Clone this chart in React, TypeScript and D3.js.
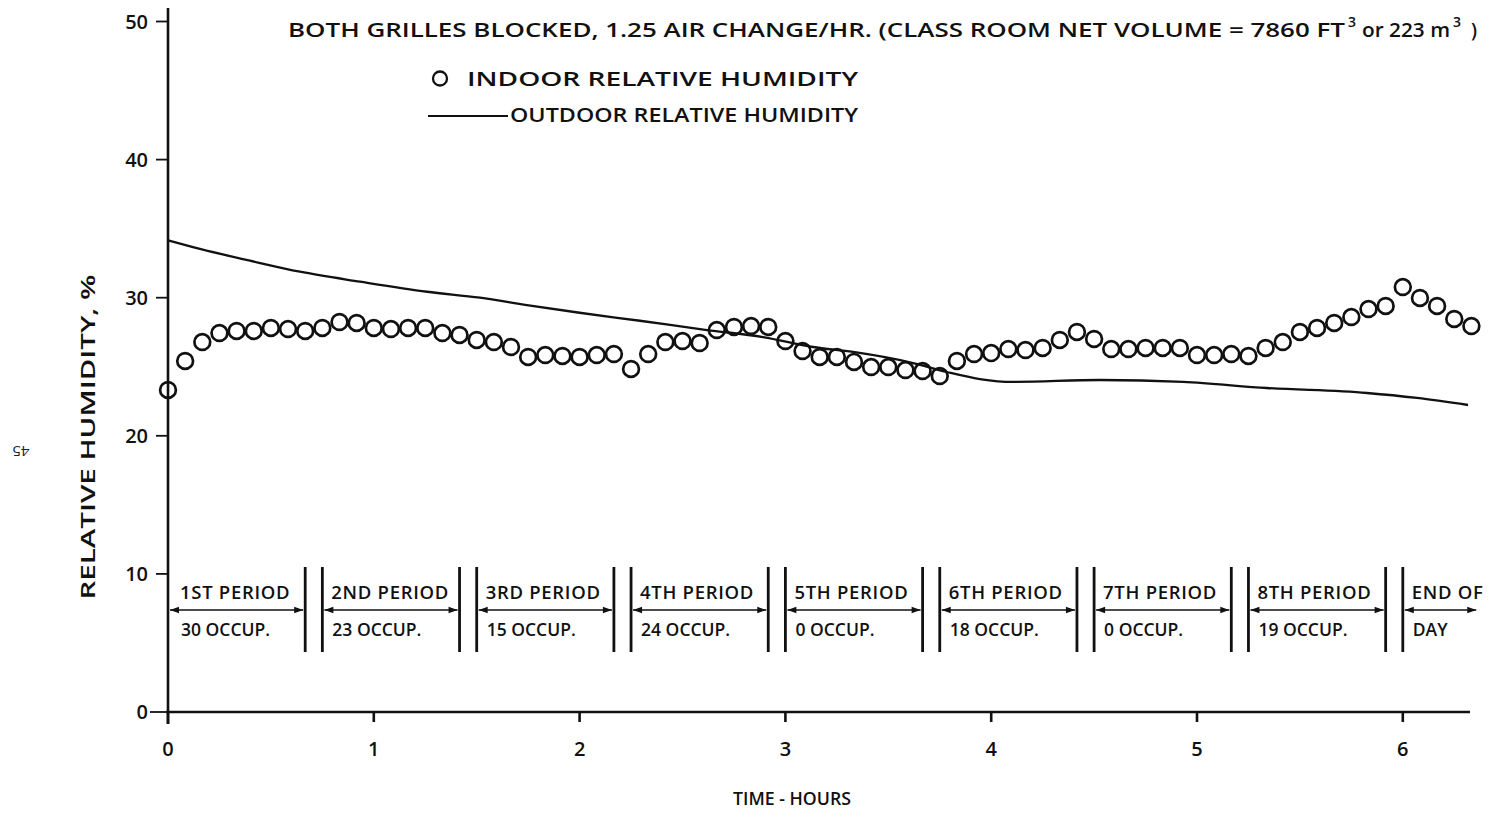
import React from "react";
import * as d3 from "d3";

// Sample times (minutes since start of school day) of indoor readings
const indoorMinutes = [
  0, 5, 10, 15, 20, 25, 30, 35, 40, 45, 50, 55, 60, 65, 70, 75, 80, 85, 90, 95,
  100, 105, 110, 115, 120, 125, 130, 135, 140, 145, 150, 155, 160, 165, 170, 175,
  180, 185, 190, 195, 200, 205, 210, 215, 220, 225, 230, 235, 240, 245, 250, 255,
  260, 265, 270, 275, 280, 285, 290, 295, 300, 305, 310, 315, 320, 325, 330, 335,
  340, 345, 350, 355, 360, 365, 370, 375, 380,
];

// Indoor relative humidity, %
const indoorRH = [
  23.32, 25.42, 26.79, 27.44, 27.59, 27.59, 27.81, 27.73, 27.59, 27.81, 28.24,
  28.17, 27.81, 27.73, 27.81, 27.81, 27.44, 27.3, 26.94, 26.79, 26.43, 25.71,
  25.85, 25.78, 25.71, 25.85, 25.92, 24.84, 25.92, 26.79, 26.86, 26.72, 27.66,
  27.88, 27.95, 27.88, 26.86, 26.14, 25.71, 25.71, 25.35, 24.98, 24.98, 24.76,
  24.69, 24.33, 25.42, 25.92, 25.99, 26.28, 26.21, 26.36, 26.94, 27.52, 27.01,
  26.28, 26.28, 26.36, 26.36, 26.36, 25.85, 25.85, 25.92, 25.78, 26.36, 26.79,
  27.52, 27.81, 28.17, 28.6, 29.18, 29.4, 30.77, 29.98, 29.4, 28.46, 27.95,
];

// Outdoor relative humidity trace (hours, %)
const outdoorHours = [
  0, 0.155, 0.398, 0.641, 0.933, 1.259, 1.516, 1.744, 2.0, 2.293, 2.619, 2.891,
  3.134, 3.329, 3.62, 3.785, 3.945, 4.106, 4.529, 4.932, 5.34, 5.826, 6.069, 6.317,
];
const outdoorRH = [
  34.15, 33.53, 32.68, 31.88, 31.16, 30.43, 30.0, 29.47, 28.91, 28.33, 27.66,
  27.15, 26.43, 26.07, 25.27, 24.62, 24.11, 23.9, 24.04, 23.9, 23.46, 23.1,
  22.74, 22.23,
];

// Class periods (minutes)
const periodStart = [0, 45, 90, 135, 180, 225, 270, 315, 360];
const periodEnd = [40, 85, 130, 175, 220, 265, 310, 355, 382];
const periodName = [
  "1ST PERIOD", "2ND PERIOD", "3RD PERIOD", "4TH PERIOD", "5TH PERIOD",
  "6TH PERIOD", "7TH PERIOD", "8TH PERIOD", "END OF",
];
const periodOccupancy = [
  "30 OCCUP.", "23 OCCUP.", "15 OCCUP.", "24 OCCUP.", "0 OCCUP.",
  "18 OCCUP.", "0 OCCUP.", "19 OCCUP.", "DAY",
];

const xTicks = [0, 1, 2, 3, 4, 5, 6];
const yTicks = [0, 10, 20, 30, 40, 50];

const W = 1491;
const H = 817;
const FONT = "'Open Sans', 'DejaVu Sans', sans-serif";
const INK = "#111";

export default function App() {
  const x = d3.scaleLinear().domain([0, 6]).range([168, 1402.8]);
  const y = d3.scaleLinear().domain([0, 50]).range([712, 21.5]);
  const xEnd = 1470;

  const outdoorLine = d3
    .line<number>()
    .x((_, i) => x(outdoorHours[i]))
    .y((d) => y(d))
    .curve(d3.curveMonotoneX)(outdoorRH) as string;

  const barTop = 567;
  const barBottom = 652;
  const arrowY = 610;

  const arrowHead = (tipX: number, dir: number) => {
    const len = 9;
    const hw = 3.2;
    return `M${tipX},${arrowY} L${tipX - dir * len},${arrowY - hw} L${tipX - dir * len},${arrowY + hw} Z`;
  };

  const txt = { fontWeight: 600, fill: INK } as const;

  return (
    <svg
      width={W}
      height={H}
      style={{ position: "absolute", left: 0, top: 0, background: "#fff" }}
      fontFamily={FONT}
    >
      <rect width={W} height={H} fill="#fff" />

      {/* page number */}
      <text
        x={0}
        y={0}
        fontSize={15}
        fill="#222"
        textAnchor="middle"
        transform="translate(21,446) rotate(180)"
      >
        45
      </text>

      {/* Title */}
      <text x={288} y={37} fontSize={19} {...txt} textLength={1057} lengthAdjust="spacingAndGlyphs">
        BOTH GRILLES BLOCKED, 1.25 AIR CHANGE/HR. (CLASS ROOM NET VOLUME = 7860 FT
      </text>
      <text x={1348} y={27} fontSize={14} {...txt}>3</text>
      <text x={1362} y={37} fontSize={19} {...txt} textLength={88} lengthAdjust="spacingAndGlyphs">
        or 223 m
      </text>
      <text x={1453} y={27} fontSize={14} {...txt}>3</text>
      <text x={1471} y={37} fontSize={19} {...txt}>)</text>

      {/* Legend */}
      <circle cx={440} cy={78.5} r={7} fill="none" stroke={INK} strokeWidth={2.3} />
      <text x={467} y={86} fontSize={19} {...txt} textLength={391} lengthAdjust="spacingAndGlyphs">
        INDOOR RELATIVE HUMIDITY
      </text>
      <line x1={428} x2={508} y1={116} y2={116} stroke={INK} strokeWidth={1.8} />
      <text x={510} y={122} fontSize={19} {...txt} textLength={348} lengthAdjust="spacingAndGlyphs">
        OUTDOOR RELATIVE HUMIDITY
      </text>

      {/* Y axis */}
      <line x1={168} x2={168} y1={8} y2={724} stroke={INK} strokeWidth={2.6} />
      {yTicks.map((t) => (
        <g key={`yt${t}`}>
          <line x1={t === 0 ? 150 : 156} x2={168} y1={y(t)} y2={y(t)} stroke={INK} strokeWidth={1.8} />
          <text x={148} y={y(t)} dy="0.36em" fontSize={20} {...txt} textAnchor="end">
            {t}
          </text>
        </g>
      ))}
      <text
        transform="translate(95,437) rotate(-90)"
        fontSize={19}
        {...txt}
        textAnchor="middle"
        textLength={325}
        lengthAdjust="spacingAndGlyphs"
      >
        RELATIVE HUMIDITY, %
      </text>

      {/* X axis */}
      <line x1={166} x2={xEnd} y1={712} y2={712} stroke={INK} strokeWidth={2.4} />
      {xTicks.map((t) => (
        <g key={`xt${t}`}>
          <line x1={x(t)} x2={x(t)} y1={712} y2={t === 0 ? 724 : 722} stroke={INK} strokeWidth={2.6} />
          <text x={x(t)} y={756} fontSize={20} {...txt} textAnchor="middle">
            {t}
          </text>
        </g>
      ))}
      <text x={792} y={805} fontSize={17.5} {...txt} textAnchor="middle" textLength={118} lengthAdjust="spacingAndGlyphs">
        TIME - HOURS
      </text>

      {/* Class periods */}
      {periodStart.map((s, i) => {
        const x0 = x(s / 60);
        const x1 = x(periodEnd[i] / 60);
        const isEnd = i === periodStart.length - 1;
        const pad = i === 0 ? 12 : 9;
        return (
          <g key={`p${i}`}>
            {i > 0 && (
              <line x1={x0} x2={x0} y1={barTop} y2={barBottom} stroke={INK} strokeWidth={2.8} />
            )}
            {!isEnd && (
              <line x1={x1} x2={x1} y1={barTop} y2={barBottom} stroke={INK} strokeWidth={2.8} />
            )}
            <line x1={x0 + 2} x2={x1 - 2} y1={arrowY} y2={arrowY} stroke={INK} strokeWidth={1.6} />
            <path d={arrowHead(x0 + 2, -1)} fill={INK} />
            <path d={arrowHead(x1 - 2, 1)} fill={INK} />
            <text x={x0 + pad} y={599} fontSize={18.5} letterSpacing={0.7} {...txt}>
              {periodName[i]}
            </text>
            <text x={x0 + pad + 1} y={636} fontSize={17.5} {...txt}>
              {periodOccupancy[i]}
            </text>
          </g>
        );
      })}

      {/* Outdoor RH */}
      <path d={outdoorLine} fill="none" stroke={INK} strokeWidth={2.3} />

      {/* Indoor RH */}
      {indoorRH.map((v, i) => (
        <circle
          key={`c${i}`}
          cx={x(indoorMinutes[i] / 60)}
          cy={y(v)}
          r={7.9}
          fill="none"
          stroke={INK}
          strokeWidth={2.7}
        />
      ))}
    </svg>
  );
}
